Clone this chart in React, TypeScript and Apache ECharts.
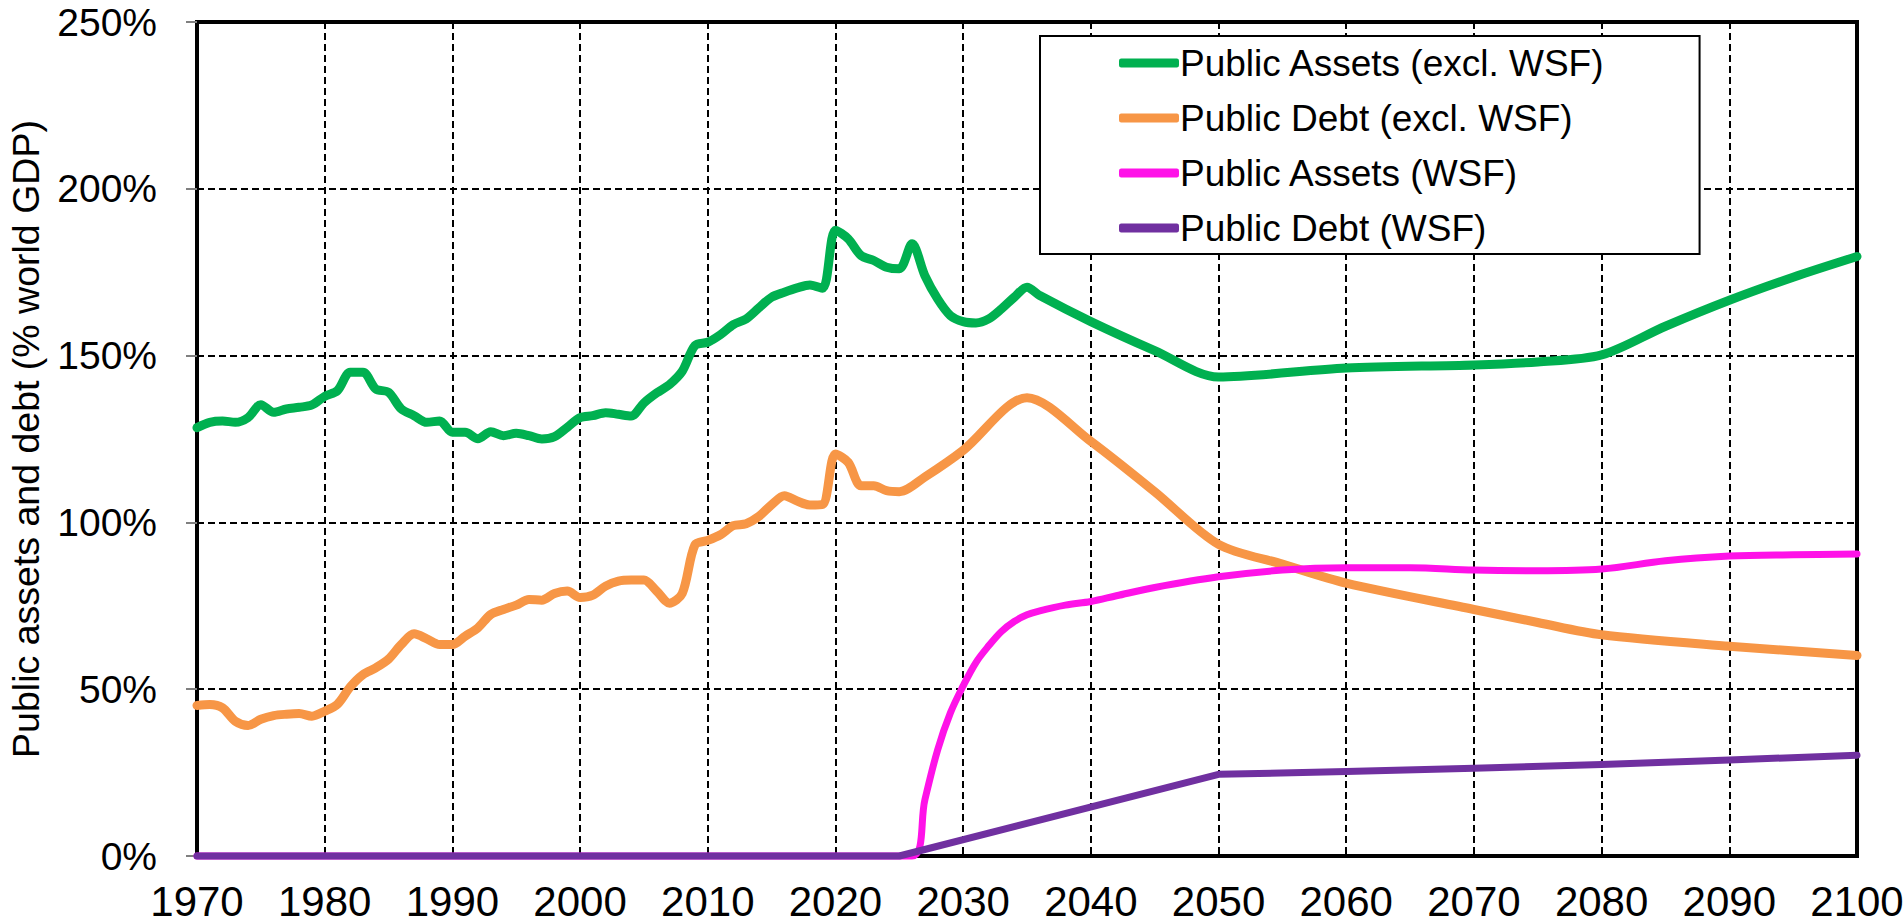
import React, { useEffect, useRef } from "react";
import * as echarts from "echarts";

const seriesNames = [
  "Public Assets (excl. WSF)",
  "Public Debt (excl. WSF)",
  "Public Assets (WSF)",
  "Public Debt (WSF)",
];

const assetsExclYears = [
  1970, 1971, 1972, 1973, 1974, 1975, 1976, 1977, 1978, 1979, 1980, 1981, 1982, 1983, 1984,
  1985, 1986, 1987, 1988, 1989, 1990, 1991, 1992, 1993, 1994, 1995, 1996, 1997, 1998, 1999,
  2000, 2001, 2002, 2003, 2004, 2005, 2006, 2007, 2008, 2009, 2010, 2011, 2012, 2013, 2014,
  2015, 2016, 2017, 2018, 2019, 2020, 2021, 2022, 2023, 2024, 2025, 2026, 2027, 2028, 2029,
  2030, 2031, 2032, 2033, 2034, 2035, 2036, 2040, 2045, 2050, 2060, 2070, 2075, 2080, 2085,
  2090, 2095, 2100,
];
const assetsExclValues = [
  128.4, 130, 130.4, 130, 131.4, 135.3, 133, 134, 134.5, 135.2, 137.8, 139.5, 145, 145, 140,
  139, 134, 132, 130, 130.4, 127, 127, 125.1, 127.2, 126, 126.7, 126, 125, 125.7, 128.5,
  131.4, 132, 132.9, 132.4, 131.9, 135.8, 138.8, 141.3, 145.3, 153, 154, 156.3, 159.3, 161, 164.3,
  167.5, 169, 170.3, 171.2, 170.2, 187.6, 185, 180, 178.5, 176.5, 176, 183.5, 174, 167, 162,
  160.2, 159.8, 161, 164, 167.5, 170.5, 168, 160.2, 151.5, 143.6, 146.3, 147.2, 148.1, 150.2, 158.8,
  166.6, 173.5, 179.7,
];

const debtExclYears = [
  1970, 1971, 1972, 1973, 1974, 1975, 1976, 1977, 1978, 1979, 1980, 1981, 1982, 1983, 1984,
  1985, 1986, 1987, 1988, 1989, 1990, 1991, 1992, 1993, 1994, 1995, 1996, 1997, 1998, 1999,
  2000, 2001, 2002, 2003, 2004, 2005, 2006, 2007, 2008, 2009, 2010, 2011, 2012, 2013, 2014,
  2015, 2016, 2017, 2018, 2019, 2020, 2021, 2022, 2023, 2024, 2025, 2027, 2030, 2035, 2040,
  2045, 2050, 2055, 2060, 2070, 2075, 2080, 2090, 2100,
];
const debtExclValues = [
  45.1, 45.4, 44.4, 40.4, 39.1, 41, 42.1, 42.5, 42.7, 41.9, 43.4, 45.5, 50.7, 54.4, 56.4,
  59, 63.4, 66.6, 65.1, 63.4, 63.4, 65.9, 68.4, 72.4, 73.9, 75.2, 76.9, 76.7, 78.7, 79.4,
  77.5, 78.2, 80.9, 82.4, 82.7, 82.7, 79.4, 75.8, 78.7, 93.3, 94.6, 96.3, 99, 99.6, 101.8,
  105.3, 108, 106.4, 105.2, 105.4, 120.5, 118, 111, 111, 109.5, 109.2, 113.6, 121.6, 137.4, 124.3,
  109.2, 93.4, 87.5, 81.8, 73.9, 70, 66.3, 62.9, 60.1,
];

const assetsWsfYears = [
  1970, 2026, 2027, 2028, 2029, 2030, 2031, 2032, 2033, 2034, 2035, 2036, 2038, 2040, 2042,
  2045, 2050, 2055, 2060, 2065, 2070, 2075, 2080, 2085, 2090, 2095, 2100,
];
const assetsWsfValues = [
  0, 0, 16.8, 31.8, 42.9, 51, 58, 63, 67.3, 70.3, 72.3, 73.5, 75.2, 76.3, 78,
  80.5, 83.7, 85.7, 86.4, 86.4, 85.7, 85.5, 86, 88.5, 89.9, 90.3, 90.5,
];

const debtWsfYears = [1970, 2025, 2050, 2060, 2070, 2080, 2090, 2100];
const debtWsfValues = [0, 0, 24.5, 25.3, 26.3, 27.4, 28.8, 30.2];

const yTicks = [0, 50, 100, 150, 200, 250];

const colors = ["#00B050", "#F79646", "#FF12E8", "#7030A0"];

const pairs = (xs: number[], ys: number[]) => xs.map((x, i) => [x, ys[i]]);

export default function App() {
  const ref = useRef<HTMLDivElement>(null);

  useEffect(() => {
    if (!ref.current) return;
    const chart = echarts.init(ref.current, null, { renderer: "svg" });
    const font = "'Liberation Sans', Arial, sans-serif";
    const dataSets = [
      pairs(assetsExclYears, assetsExclValues),
      pairs(debtExclYears, debtExclValues),
      pairs(assetsWsfYears, assetsWsfValues),
      pairs(debtWsfYears, debtWsfValues),
    ];
    const widths = [9, 9, 7, 7];
    const smooths: (number | boolean)[] = [0.3, 0.3, 0.35, false];
    chart.setOption({
      animation: false,
      backgroundColor: "#ffffff",
      textStyle: { fontFamily: font },
      grid: {
        left: 197,
        right: 46,
        top: 22,
        bottom: 68,
        show: true,
        borderColor: "#000",
        borderWidth: 4,
        backgroundColor: "transparent",
        containLabel: false,
        outerBoundsMode: "none",
      },
      legend: {
        orient: "vertical",
        left: 1040,
        top: 36,
        padding: [7, 94, 6, 79],
        itemGap: 15,
        itemWidth: 60,
        itemHeight: 9,
        icon: "roundRect",
        backgroundColor: "#ffffff",
        borderColor: "#000",
        borderWidth: 2,
        borderRadius: 0,
        data: seriesNames,
        textStyle: {
          fontFamily: font,
          fontSize: 37,
          lineHeight: 40,
          color: "#000",
          padding: [0, 0, 0, -4],
        },
      },
      xAxis: {
        type: "value",
        min: 1970,
        max: 2100,
        interval: 10,
        axisLine: { show: true, lineStyle: { color: "#000", width: 4 } },
        axisTick: { show: false },
        axisLabel: {
          color: "#000",
          fontSize: 42,
          fontFamily: font,
          margin: 24,
          showMinLabel: true,
          showMaxLabel: true,
          hideOverlap: false,
          formatter: (v: number) => String(v),
        },
        splitLine: {
          show: true,
          lineStyle: { color: "#000", width: 2, type: [7, 4] },
        },
      },
      yAxis: {
        type: "value",
        min: 0,
        max: 250,
        interval: 50,
        name: "Public assets and debt (% world GDP)",
        nameLocation: "middle",
        nameGap: 152,
        nameRotate: 90,
        nameTextStyle: { color: "#000", fontSize: 37.5, fontFamily: font },
        axisLine: { show: true, lineStyle: { color: "#000", width: 4 } },
        axisTick: {
          show: true,
          inside: false,
          length: 11,
          lineStyle: { color: "#808080", width: 2 },
        },
        axisLabel: {
          color: "#000",
          fontSize: 39,
          fontFamily: font,
          margin: 40,
          formatter: (v: number) => (yTicks.includes(v) ? `${v}%` : ""),
        },
        splitLine: {
          show: true,
          lineStyle: { color: "#000", width: 2, type: [7, 4] },
        },
      },
      series: seriesNames.map((name, i) => ({
        name,
        type: "line",
        data: dataSets[i],
        showSymbol: false,
        symbol: "none",
        smooth: smooths[i],
        clip: false,
        color: colors[i],
        lineStyle: { color: colors[i], width: widths[i], cap: "round", join: "round" },
        z: 3 + i,
      })),
    });
    return () => chart.dispose();
  }, []);

  return (
    <div
      ref={ref}
      style={{ position: "fixed", left: 0, top: 0, width: 1903, height: 924, background: "#fff" }}
    />
  );
}
